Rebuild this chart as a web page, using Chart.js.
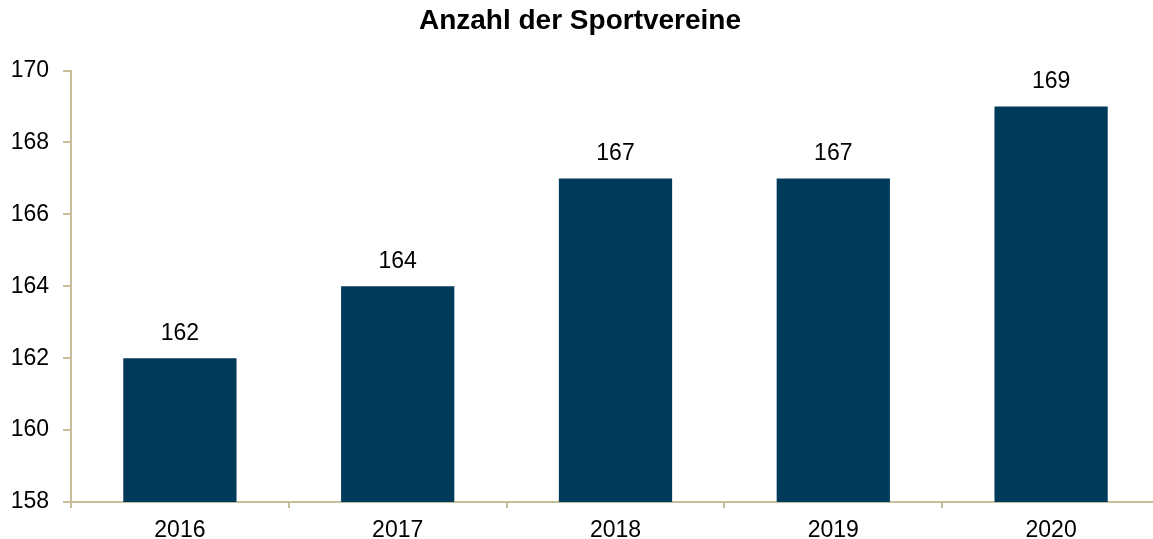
<!DOCTYPE html>
<html><head><meta charset="utf-8">
<script src="https://cdn.jsdelivr.net/npm/chart.js@4"></script>
<style>html,body{margin:0;padding:0;overflow:hidden;background:#fff;width:1153px;height:539px}canvas{display:block}</style>
</head><body>
<canvas id="c" width="1160" height="539" style="width:1160px;height:539px"></canvas>
<script>
const categories = ['2016','2017','2018','2019','2020'];
const values = [162, 164, 167, 167, 169];
const yMin = 158, yMax = 170, yStep = 2;
const titleText = 'Anzahl der Sportvereine';

const axisColor = '#C6BE98';
const barColor = '#003A5A';
const font = 'Liberation Sans, Arial, sans-serif';

const labelPlugin = {
  id: 'barLabels',
  afterDatasetsDraw(chart) {
    const ctx = chart.ctx;
    const meta = chart.getDatasetMeta(0);
    ctx.save();
    ctx.font = '23px ' + font;
    ctx.fillStyle = '#000';
    ctx.textAlign = 'center';
    ctx.textBaseline = 'middle';
    meta.data.forEach((bar, i) => {
      ctx.fillText(String(values[i]), bar.x, bar.y - 25);
    });
    ctx.restore();
  }
};

new Chart(document.getElementById('c'), {
  type: 'bar',
  data: {
    labels: categories,
    datasets: [{
      data: values,
      backgroundColor: barColor,
      borderWidth: 0,
      categoryPercentage: 1,
      barPercentage: 0.52
    }]
  },
  options: {
    responsive: false,
    animation: false,
    layout: { padding: { left: 0, right: 0, top: 0, bottom: 0 } },
    plugins: {
      legend: { display: false },
      tooltip: { enabled: false },
      title: {
        display: true,
        text: titleText,
        color: '#000',
        font: { family: font, size: 28, weight: 'bold' },
        padding: { top: 4, bottom: 33 }
      }
    },
    scales: {
      x: {
        offset: true,
        grid: { offset: true, drawOnChartArea: false, drawTicks: true, tickLength: 6, color: axisColor, lineWidth: 2 },
        border: { color: axisColor, width: 2 },
        ticks: { color: '#000', font: { family: font, size: 23 }, padding: 9 },
        afterFit(s) { s.height = 37; }
      },
      y: {
        min: yMin, max: yMax,
        grid: { drawOnChartArea: false, drawTicks: true, tickLength: 8, color: axisColor, lineWidth: 2 },
        border: { color: axisColor, width: 2 },
        ticks: { stepSize: yStep, color: '#000', font: { family: font, size: 23 }, padding: 14 },
        afterFit(s) { s.width = 71; }
      }
    }
  },
  plugins: [labelPlugin]
});
</script>
</body></html>
